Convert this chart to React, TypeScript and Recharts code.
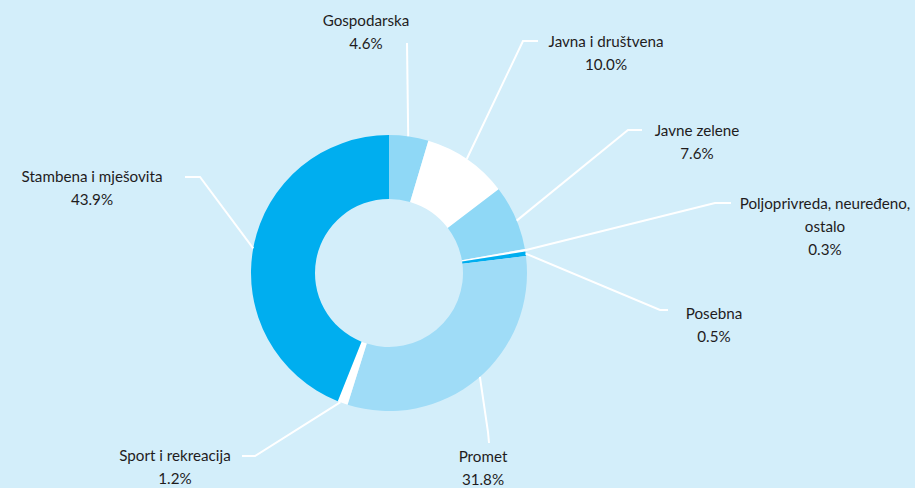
import React from 'react';
import { PieChart, Pie, Cell } from 'recharts';

const categories = [
  'Gospodarska',
  'Javna i društvena',
  'Javne zelene',
  'Poljoprivreda, neuređeno,\nostalo',
  'Posebna',
  'Promet',
  'Sport i rekreacija',
  'Stambena i mješovita',
];
const shares = [4.6, 10.0, 7.6, 0.3, 0.5, 31.8, 1.2, 43.9];

const sliceColors = ['#8fd8f6', '#ffffff', '#8fd8f6', '#ffffff', '#00aeef', '#9fdcf7', '#ffffff', '#00aeef'];

// label layout (relative to pie centre): anchor angle on ring (deg clockwise from top),
// leader polyline points, text centre
const labelLayout = [
  { angle: 8, pts: [[18, -230]], tx: -23, ty: -253 },
  { angle: 34.3, pts: [[134, -232], [149, -232]], tx: 217, ty: -232 },
  { angle: 67.7, pts: [[239, -143], [253, -143]], tx: 308, ty: -143 },
  { angle: 80.5, pts: [[326, -70], [342, -70]], tx: 436, ty: -70 },
  { angle: 81.9, pts: [[271, 37], [279, 37]], tx: 325, ty: 40 },
  { angle: 138.8, pts: [[99, 159], [100, 170]], tx: 94, ty: 183 },
  { angle: 200.6, pts: [[-134, 183], [-147, 183]], tx: -214, ty: 182 },
  { angle: 280.3, pts: [[-189, -96], [-204, -96]], tx: -297, ty: -97 },
];

const data = categories.map((name, i) => ({ name, value: shares[i] }));

const W = 915;
const H = 488;
const LINE_H = 23;

const renderLabel = (props: any) => {
  const { cx, cy, outerRadius, index } = props;
  const lay = labelLayout[index];
  const a = (lay.angle * Math.PI) / 180;
  const sx = cx + outerRadius * Math.sin(a);
  const sy = cy - outerRadius * Math.cos(a);
  const points = [[sx, sy], ...lay.pts.map(([x, y]) => [cx + x, cy + y])]
    .map((p) => p.join(','))
    .join(' ');
  const lines = [...categories[index].split('\n'), shares[index].toFixed(1) + '%'];
  return (
    <g key={`lbl-${index}`}>
      <polyline points={points} fill="none" stroke="#ffffff" strokeWidth={2} />
      {lines.map((t, j) => (
        <text
          key={j}
          x={cx + lay.tx}
          y={cy + lay.ty + j * LINE_H}
          textAnchor="middle"
          dominantBaseline="central"
          fill="#1f1c1d"
          fontSize={15.2}
          fontFamily="Lato, 'Open Sans', sans-serif"
        >
          {t}
        </text>
      ))}
    </g>
  );
};

export default function App() {
  return (
    <div style={{ position: 'absolute', left: 0, top: 0, width: W, height: H, background: '#d3eefa' }}>
      <PieChart width={W} height={H} margin={{ top: 0, right: 0, bottom: 0, left: 0 }}>
        <Pie
          data={data}
          dataKey="value"
          nameKey="name"
          cx={389}
          cy={273}
          innerRadius={74}
          outerRadius={138}
          startAngle={90}
          endAngle={-270}
          stroke="none"
          label={renderLabel}
          labelLine={false}
          isAnimationActive={false}
        >
          {data.map((d, i) => (
            <Cell key={d.name} fill={sliceColors[i]} stroke="none" />
          ))}
        </Pie>
      </PieChart>
    </div>
  );
}
